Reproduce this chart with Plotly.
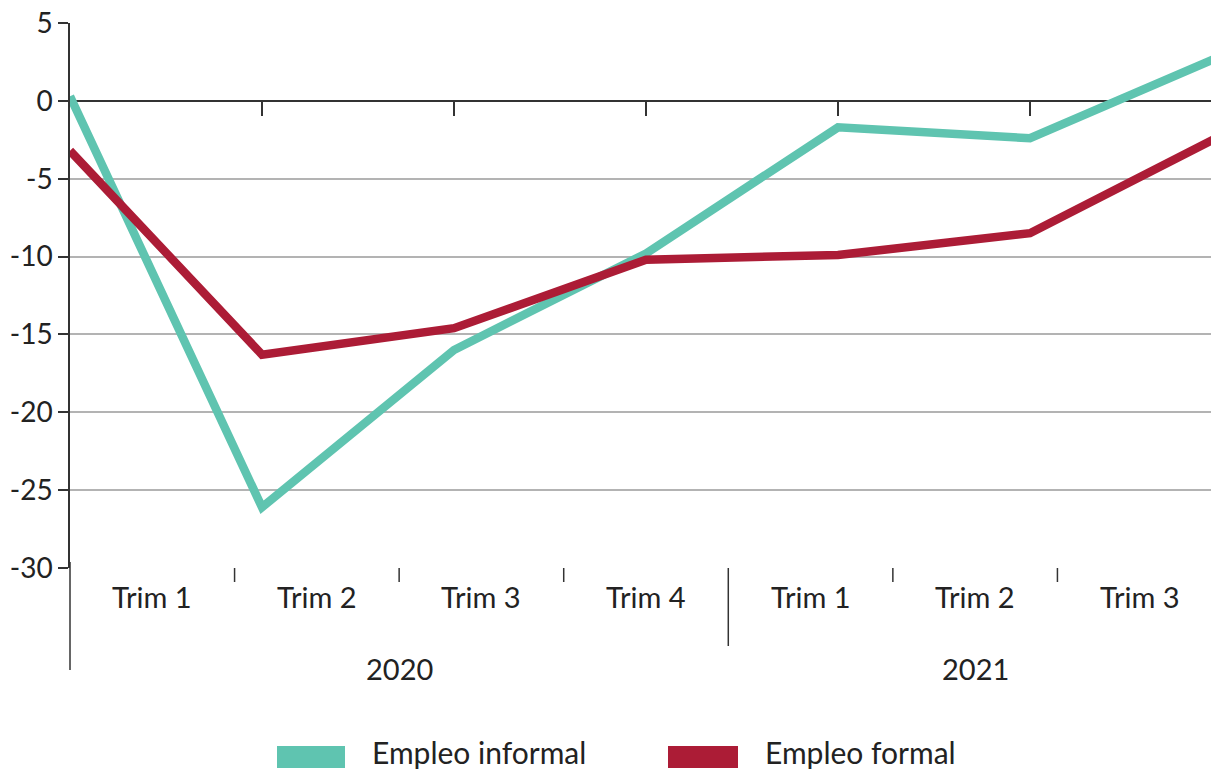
import plotly.graph_objects as go

# ---- data ----
years = ["2020", "2020", "2020", "2020", "2021", "2021", "2021"]
quarters = ["Trim 1", "Trim 2", "Trim 3", "Trim 4", "Trim 1", "Trim 2", "Trim 3"]
informal = [0.3, -26.1, -16.0, -9.8, -1.7, -2.4, 2.9]
formal = [-3.2, -16.3, -14.6, -10.2, -9.9, -8.5, -2.2]
series_names = ["Empleo informal", "Empleo formal"]
colors = ["#5fc4b0", "#ac1c36"]
y_ticks = [5, 0, -5, -10, -15, -20, -25, -30]
y_ticktext = ["5", "0", "-5", "-10", "-15", "-20", "-25", "-30"]

# ---- geometry ----
W, H = 1211, 771
ML, MR, MT, MB = 70, 0, 23, 203
PW = W - ML - MR
PH = H - MT - MB
FULL_W = 1152  # full plot width in the original (cropped at the right)
n = len(quarters)
x_end = n * PW / FULL_W
FONT = "Lato"
TXT = "#222222"


def xp(px):
    return (px - ML) / PW


def yp(py):
    return (H - MB - py) / PH


# line points spread over the full band range
xpos = [i * n / (n - 1) for i in range(n)]

fig = go.Figure()
for name, vals, c in zip(series_names, [informal, formal], colors):
    fig.add_trace(go.Scatter(x=xpos, y=vals, mode="lines", name=name,
                             line=dict(color=c, width=8.5), showlegend=False,
                             xaxis="x", yaxis="y"))

# dummy trace for the tick axis on zero line
fig.add_trace(go.Scatter(x=[0], y=[0], mode="markers", marker=dict(opacity=0),
                         showlegend=False, hoverinfo="skip", xaxis="x2", yaxis="y"))

shapes = []
annotations = []

# band boundary ticks at bottom
for k in range(1, n):
    is_year = years[k] != years[k - 1]
    shapes.append(dict(type="line", xref="x", yref="paper", x0=k, x1=k,
                       y0=0, y1=yp(646 if is_year else 582),
                       line=dict(color="#333333", width=1.5)))
# y axis line extension
shapes.append(dict(type="line", xref="paper", yref="paper", x0=0, x1=0,
                   y0=yp(562), y1=yp(670), line=dict(color="#333333", width=1.5)))

# quarter labels
for k, q in enumerate(quarters):
    annotations.append(dict(x=k + 0.5, xref="x", y=yp(596), yref="paper",
                            text=q, showarrow=False, yanchor="middle",
                            font=dict(family=FONT, size=29, color=TXT)))
# year labels
for yr in sorted(set(years)):
    idx = [i for i, v in enumerate(years) if v == yr]
    cx = (idx[0] + idx[-1] + 1) / 2
    annotations.append(dict(x=cx, xref="x", y=yp(668), yref="paper",
                            text=yr, showarrow=False, yanchor="middle",
                            font=dict(family=FONT, size=29, color=TXT)))

# custom legend
leg = [(277, 345, 370), (668, 738, 763)]
for (x0, x1, tx), name, c in zip(leg, series_names, colors):
    shapes.append(dict(type="rect", xref="paper", yref="paper",
                       x0=xp(x0), x1=xp(x1), y0=yp(746), y1=yp(768),
                       fillcolor=c, line=dict(width=0)))
    annotations.append(dict(x=xp(tx), xref="paper", y=yp(752), yref="paper",
                            text=name, showarrow=False, xanchor="left",
                            yanchor="middle",
                            font=dict(family=FONT, size=30, color=TXT)))

fig.update_layout(
    width=W, height=H,
    margin=dict(l=ML, r=MR, t=MT, b=MB, pad=0),
    paper_bgcolor="white", plot_bgcolor="white",
    showlegend=False,
    xaxis=dict(range=[0, x_end], showgrid=False, zeroline=False,
               showticklabels=False, showline=False, ticks=""),
    xaxis2=dict(range=[0, x_end], overlaying="x", anchor="free",
                position=yp(101), showgrid=False, zeroline=False,
                showline=False, showticklabels=False, ticks="outside",
                tickvals=xpos[1:-1], ticklen=14, tickwidth=1.5,
                tickcolor="#333333", side="bottom"),
    yaxis=dict(range=[-30, 5], tickvals=y_ticks, ticktext=y_ticktext,
               showgrid=True, gridcolor="#b3b3b3", gridwidth=1.5,
               zeroline=True, zerolinecolor="#333333", zerolinewidth=1.5,
               showline=True, linecolor="#333333", linewidth=1.5,
               ticks="outside", ticklen=10, tickwidth=1.5, tickcolor="#333333",
               tickfont=dict(family=FONT, size=28, color=TXT)),
    shapes=shapes,
    annotations=annotations,
)

fig.write_html("out.html",
               config={"displayModeBar": False},
               post_script="document.body.style.margin='0';document.body.style.overflow='hidden';")
